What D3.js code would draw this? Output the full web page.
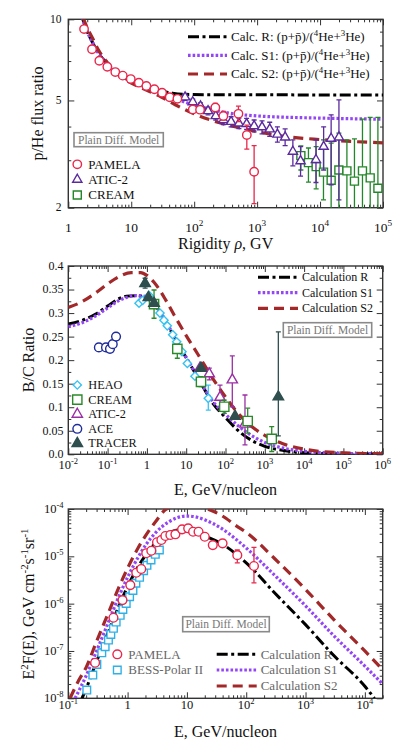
<!DOCTYPE html>
<html>
<head>
<meta charset="utf-8">
<script src="https://cdn.jsdelivr.net/npm/d3@7"></script>
<style>
  body { margin: 0; background: #fff; }
  svg { display: block; font-family: "Liberation Serif", "Times New Roman", serif; }
</style>
</head>
<body>
<svg id="chart" width="407" height="744"></svg>
<script>
// ---------- panel 1: p/He flux ratio vs rigidity (GV) ----------
// [rigidity, ratio, errLow, errHigh]
const phePamela = [
  [1.78, 9.2], [2.38, 7.74], [3.11, 7.02], [4.17, 6.67], [5.58, 6.37], [7.33, 6.18],
  [9.82, 6.0], [13.2, 5.82], [17.4, 5.66], [23.3, 5.5], [30.9, 5.34], [40.9, 5.14],
  [54.1, 5.07], [95, 4.63, 4.52, 4.74], [124, 4.62, 4.5, 4.74], [217, 4.71, 4.55, 4.88],
  [291, 4.38, 4.23, 4.55], [505, 4.46, 4.17, 4.76], [686, 3.72, 3.3, 4.05], [896, 2.72, 2.07, 3.4]
];
const pheAtic = [
  [71.7, 5.14, 5.0, 5.28], [95, 4.93, 4.8, 5.06], [126, 4.76, 4.62, 4.9], [166, 4.57, 4.42, 4.72],
  [220, 4.38, 4.23, 4.54], [292, 4.23, 4.07, 4.4], [386, 4.17, 3.99, 4.35], [514, 4.11, 3.93, 4.3],
  [681, 4.09, 3.9, 4.29], [896, 4.02, 3.82, 4.23], [1197, 3.98, 3.76, 4.2], [1585, 3.91, 3.68, 4.15],
  [2100, 3.74, 3.5, 3.99], [2786, 3.65, 3.4, 3.92], [3698, 3.23, 2.86, 3.57], [4898, 2.98, 2.62, 3.37],
  [8610, 3.01, 2.48, 3.57], [11400, 3.37, 2.76, 3.99], [15000, 3.61, 2.43, 4.42], [19950, 3.65, 2.14, 5.02]
];
const pheCream = [
  [4955, 3.12, 2.76, 3.39], [6540, 2.94, 2.49, 3.33], [8670, 2.84, 2.35, 3.37], [11330, 2.71, 2.14, 3.57],
  [15000, 2.53, 1.9, 3.47], [19900, 2.76, 1.9, 3.78], [26700, 2.74, 1.9, 3.57], [35200, 2.51, 1.9, 3.6],
  [47200, 2.74, 1.9, 4.26], [62600, 2.58, 1.9, 4.33], [83000, 2.36, 1.9, 4.33]
];
const pheCalcR = [[1.65, 10.2], [2, 9.0], [2.5, 8.1], [3, 7.5], [4, 6.9], [5, 6.5], [7, 6.15], [10, 5.9],
  [15, 5.7], [20, 5.57], [30, 5.42], [45, 5.32], [70, 5.27], [200, 5.25], [1e5, 5.24]];
const pheCalcS1 = [[1.65, 10.2], [2, 9.0], [2.5, 8.1], [3, 7.5], [4, 6.9], [5, 6.5], [7, 6.15], [10, 5.9],
  [20, 5.52], [30, 5.32], [50, 5.08], [100, 4.8], [160, 4.66], [400, 4.47], [1000, 4.38], [1e4, 4.3], [1e5, 4.26]];
const pheCalcS2 = [[1.7, 10.2], [2, 9.3], [2.5, 8.4], [3, 7.7], [4, 7.0], [5, 6.55], [7, 6.1], [10, 5.8],
  [15, 5.55], [20, 5.38], [30, 5.15], [50, 4.82], [100, 4.46], [200, 4.2], [500, 3.97], [1000, 3.83],
  [3000, 3.67], [1e4, 3.58], [1e5, 3.48]];

// ---------- panel 2: B/C ratio vs E (GeV/nucleon) ----------
const bcHeao = [
  [0.63, 0.321], [0.78, 0.327], [1.15, 0.337], [2.15, 0.3], [2.72, 0.285], [3.3, 0.273], [4.53, 0.254],
  [5.73, 0.239], [7.82, 0.218], [10.7, 0.193], [16.7, 0.166], [36.5, 0.119, 0.094, 0.147]
];
const bcCream = [
  [1.52, 0.319, 0.289, 0.349], [5.94, 0.224, 0.204, 0.234], [23.8, 0.154, 0.144, 0.165],
  [93, 0.101, 0.087, 0.115], [367, 0.0707, 0.045, 0.098], [1500, 0.0326, 0.006, 0.059]
];
const bcAtic = [
  [22.4, 0.183], [38.7, 0.171, 0.158, 0.183], [72.5, 0.121, 0.094, 0.147],
  [149, 0.158, 0.101, 0.209], [313, 0.064, 0.02, 0.126]
];
const bcAce = [[0.06, 0.227], [0.091, 0.227], [0.115, 0.224], [0.135, 0.234], [0.164, 0.25]];
const bcTracer = [
  [0.9, 0.363, 0.353, 0.374], [1.09, 0.333], [1.52, 0.321], [23.8, 0.183], [175, 0.081],
  [2210, 0.122, 0.039, 0.26]
];
const bcCalcR = [[0.01, 0.277], [0.02, 0.283], [0.05, 0.298], [0.1, 0.315], [0.2, 0.331], [0.3, 0.336],
  [0.5, 0.337], [0.8, 0.335], [1, 0.332], [2, 0.305], [3, 0.283], [5, 0.248], [10, 0.205], [20, 0.162],
  [50, 0.106], [100, 0.078], [200, 0.052], [500, 0.028], [1000, 0.017], [3000, 0.008], [1e4, 0.0035],
  [1e5, 0.001], [1e6, 0.0003]];
const bcCalcS1 = [[0.01, 0.271], [0.02, 0.278], [0.05, 0.294], [0.1, 0.311], [0.2, 0.327], [0.3, 0.333],
  [0.5, 0.337], [0.8, 0.336], [1, 0.333], [2, 0.306], [3, 0.284], [5, 0.249], [10, 0.206], [20, 0.163],
  [50, 0.11], [100, 0.085], [200, 0.062], [500, 0.038], [1000, 0.025], [3000, 0.013], [1e4, 0.0065],
  [1e5, 0.002], [1e6, 0.0007]];
const bcCalcS2 = [[0.01, 0.312], [0.02, 0.322], [0.05, 0.343], [0.1, 0.362], [0.2, 0.378], [0.4, 0.386],
  [0.7, 0.386], [1, 0.38], [1.5, 0.366], [2, 0.352], [3, 0.328], [5, 0.295], [10, 0.252], [20, 0.212],
  [50, 0.158], [100, 0.122], [200, 0.089], [500, 0.057], [1000, 0.04], [3000, 0.022], [1e4, 0.011],
  [1e5, 0.003], [1e6, 0.001]];

// ---------- panel 3: antiproton E^2 F(E) ----------
const pbarPamela = [
  [0.283, 5.63e-8], [0.577, 5.03e-7], [0.82, 1.19e-6], [1.11, 2.47e-6], [1.4, 4.5e-6], [1.7, 5.39e-6],
  [2.06, 1.16e-5], [2.51, 1.31e-5], [3.13, 1.98e-5], [3.71, 2.21e-5], [4.33, 2.69e-5], [5.26, 2.82e-5],
  [6.39, 2.92e-5], [8.29, 3.72e-5], [10.5, 3.91e-5], [12.7, 3.31e-5], [15.7, 3.31e-5], [20, 2.59e-5],
  [27.3, 1.73e-5], [39.9, 1.88e-5], [70.7, 1.06e-5, 7.3e-6, 1.36e-5], [135, 6.24e-6, 2.75e-6, 1.55e-5]
];
const pbarBess = [
  [0.205, 1.49e-8], [0.259, 3.09e-8], [0.303, 5.21e-8], [0.367, 9.16e-8], [0.418, 1.23e-7],
  [0.475, 1.7e-7], [0.521, 2.24e-7], [0.577, 3.01e-7], [0.641, 4.08e-7], [0.75, 5.66e-7],
  [0.832, 7.57e-7], [0.947, 1.01e-6], [1.08, 1.4e-6], [1.23, 1.9e-6], [1.38, 2.7e-6], [1.59, 3.6e-6],
  [1.86, 4.96e-6], [2.12, 6.46e-6], [2.48, 8.36e-6], [2.93, 1.1e-5], [3.43, 1.36e-5]
];
const pbarCalcR = [[0.17, 1e-8], [0.2, 1.6e-8], [0.3, 6e-8], [0.5, 3e-7], [0.7, 8.5e-7], [1, 2.3e-6],
  [1.5, 6e-6], [2, 1.05e-5], [3, 1.95e-5], [5, 3.1e-5], [7, 3.6e-5], [10, 3.6e-5], [15, 3.2e-5],
  [20, 2.7e-5], [37, 1.9e-5], [100, 7.3e-6], [300, 1.7e-6], [1000, 3.6e-7], [3000, 8e-8],
  [1e4, 1.8e-8], [1.45e4, 1e-8]];
const pbarCalcS1 = [[0.13, 1e-8], [0.2, 3e-8], [0.3, 1e-7], [0.5, 4.8e-7], [0.7, 1.35e-6], [1, 3.6e-6],
  [1.5, 9.5e-6], [2, 1.7e-5], [3, 3.2e-5], [5, 5.4e-5], [7, 6.6e-5], [10, 7.1e-5], [15, 6.7e-5],
  [20, 5.9e-5], [37, 4e-5], [70, 2.2e-5], [100, 1.5e-5], [300, 4e-6], [1000, 9e-7], [3000, 2.1e-7],
  [1e4, 4.8e-8], [2e4, 2e-8]];
const pbarCalcS2 = [[0.107, 1e-8], [0.15, 2.4e-8], [0.2, 4.5e-8], [0.3, 1.6e-7], [0.5, 7.5e-7],
  [0.7, 2.1e-6], [1, 5.6e-6], [1.5, 1.5e-5], [2, 2.7e-5], [3, 5.5e-5], [4.5, 1e-4], [7, 1.15e-4],
  [10, 1.18e-4], [15, 1.12e-4], [22, 1e-4], [37, 7.5e-5], [70, 4.3e-5], [100, 3.2e-5], [300, 9e-6],
  [1000, 2e-6], [3000, 4.6e-7], [1e4, 1e-7], [2e4, 4e-8]];

// tick label values
const pheXTicks = [1, 10, 100, 1e3, 1e4, 1e5];
const pheYTicks = [2, 5, 10];
const bcXTicks = [1e-2, 1e-1, 1, 10, 100, 1e3, 1e4, 1e5, 1e6];
const bcYTicks = [0, 0.05, 0.1, 0.15, 0.2, 0.25, 0.3, 0.35, 0.4];
const pbarXTicks = [0.1, 1, 10, 100, 1e3, 1e4];
const pbarYTicks = [1e-8, 1e-7, 1e-6, 1e-5, 1e-4];

// ---------- styles ----------
const calcStyle = {
  R: { color: '#000', dash: '11,3.5,3,3.5', width: 3 },
  S1: { color: '#9446f7', dash: '2.6,2', width: 3.2 },
  S2: { color: '#a3282a', dash: '10,6', width: 3.2 }
};

const svg = d3.select('#chart');
const FRAME = '#333';

function logTicks(lo, hi) {
  const major = [], minor = [];
  for (let e = Math.floor(Math.log10(lo)) - 1; e <= Math.ceil(Math.log10(hi)); e++) {
    for (let k = 1; k <= 9; k++) {
      const v = k * Math.pow(10, e);
      if (v < lo * 0.999 || v > hi * 1.001) continue;
      (k === 1 ? major : minor).push(v);
    }
  }
  return { major, minor };
}

// parts: plain strings or {sup, up}; the baseline comes back on the next plain part
function richText(sel, parts, supSize) {
  let back = 0;
  parts.forEach(p => {
    if (typeof p === 'string') {
      const t = sel.append('tspan').text(p);
      if (back) t.attr('dy', back);
      back = 0;
    } else {
      sel.append('tspan').attr('font-size', supSize).attr('dy', -p.up - back).text(p.sup);
      back = p.up;
    }
  });
}

function powParts(v, up) {
  const e = Math.round(Math.log10(v));
  if (e === 0) return ['1'];
  if (e === 1) return ['10'];
  return ['10', { sup: String(e), up: up }];
}

function makePanel(cfg) {
  const x = d3.scaleLog().domain(cfg.xDomain).range([cfg.left, cfg.right]);
  const y = (cfg.yLog ? d3.scaleLog() : d3.scaleLinear()).domain(cfg.yDomain).range([cfg.bottom, cfg.top]);
  const g = svg.append('g');

  svg.append('clipPath').attr('id', 'clip-' + cfg.id)
    .append('rect')
    .attr('x', cfg.left).attr('y', cfg.top)
    .attr('width', cfg.right - cfg.left).attr('height', cfg.bottom - cfg.top);

  // ticks on all four sides, pointing inward
  const axes = [
    [d3.axisBottom, x, cfg.xMajor, cfg.xMinor, `translate(0,${cfg.bottom})`],
    [d3.axisTop, x, cfg.xMajor, cfg.xMinor, `translate(0,${cfg.top})`],
    [d3.axisLeft, y, cfg.yMajor, cfg.yMinor, `translate(${cfg.left},0)`],
    [d3.axisRight, y, cfg.yMajor, cfg.yMinor, `translate(${cfg.right},0)`]
  ];
  axes.forEach(([fn, sc, major, minor, tr]) => {
    [[major, 6], [minor, 3]].forEach(([vals, len]) => {
      g.append('g')
        .attr('transform', tr)
        .call(fn(sc).tickValues(vals).tickSize(-len).tickSizeOuter(0).tickFormat(''))
        .call(a => a.select('.domain').remove())
        .call(a => a.selectAll('line').attr('stroke', FRAME).attr('stroke-width', 1));
    });
  });

  g.append('rect')
    .attr('x', cfg.left).attr('y', cfg.top)
    .attr('width', cfg.right - cfg.left).attr('height', cfg.bottom - cfg.top)
    .attr('fill', 'none').attr('stroke', FRAME).attr('stroke-width', 1.4);

  const plot = svg.append('g').attr('clip-path', `url(#clip-${cfg.id})`);
  return { x, y, g, plot };
}

function drawCurve(p, data, style) {
  const line = d3.line().x(d => p.x(d[0])).y(d => p.y(d[1])).curve(d3.curveMonotoneX);
  p.plot.append('path')
    .attr('d', line(data))
    .attr('fill', 'none')
    .attr('stroke', style.color)
    .attr('stroke-width', style.width)
    .attr('stroke-dasharray', style.dash);
}

function drawErrors(p, data, color) {
  const withErr = data.filter(d => d.length > 2);
  const eg = p.plot.append('g').attr('stroke', color).attr('stroke-width', 1.3);
  withErr.forEach(d => {
    const cx = p.x(d[0]);
    eg.append('line').attr('x1', cx).attr('x2', cx).attr('y1', p.y(d[2])).attr('y2', p.y(d[3]));
    [d[2], d[3]].forEach(v => {
      eg.append('line').attr('x1', cx - 2.5).attr('x2', cx + 2.5).attr('y1', p.y(v)).attr('y2', p.y(v));
    });
  });
}

function markerPath(shape) {
  const types = { circle: d3.symbolCircle, triangle: d3.symbolTriangle, square: d3.symbolSquare, diamond: d3.symbolSquare };
  return d3.symbol().type(types[shape.type]).size(shape.size)();
}

function drawMarkers(sel, pts, shape) {
  sel.selectAll(null)
    .data(pts)
    .enter()
    .append('path')
    .attr('d', markerPath(shape))
    .attr('transform', d => `translate(${d[0]},${d[1]})` + (shape.type === 'diamond' ? ' rotate(45)' : ''))
    .attr('fill', shape.fill || '#fff')
    .attr('stroke', shape.color)
    .attr('stroke-width', 1.4);
}

function drawSeries(p, data, shape) {
  drawErrors(p, data, shape.color);
  drawMarkers(p.plot.append('g'), data.map(d => [p.x(d[0]), p.y(d[1])]), shape);
}

function xLabels(p, ticks, baseY, size, supUp) {
  ticks.forEach(v => {
    const t = p.g.append('text')
      .attr('x', p.x(v)).attr('y', baseY)
      .attr('text-anchor', 'middle').attr('font-size', size).attr('fill', '#111');
    richText(t, powParts(v, supUp), size * 0.68);
  });
}

function yLabels(p, ticks, xEnd, size, fmt) {
  ticks.forEach(v => {
    const t = p.g.append('text')
      .attr('x', xEnd).attr('y', p.y(v) + size * 0.33)
      .attr('text-anchor', 'end').attr('font-size', size).attr('fill', '#111');
    richText(t, fmt(v), size * 0.68);
  });
}

function axisTitle(p, text, x, y, rotate, size) {
  const t = p.g.append('text')
    .attr('transform', `translate(${x},${y})` + (rotate ? ' rotate(-90)' : ''))
    .attr('text-anchor', 'middle').attr('font-size', size).attr('fill', '#111');
  richText(t, text, size * 0.68);
  return t;
}

function legendLine(p, x1, x2, y, style, parts, size, color) {
  p.g.append('line')
    .attr('x1', x1).attr('x2', x2).attr('y1', y).attr('y2', y)
    .attr('stroke', style.color).attr('stroke-width', style.width)
    .attr('stroke-dasharray', style.dash);
  const t = p.g.append('text')
    .attr('x', x2 + 4).attr('y', y + size * 0.33)
    .attr('font-size', size).attr('fill', color);
  richText(t, parts, size * 0.68);
}

function legendMarker(p, x, y, shape, label, size, color) {
  drawMarkers(p.g.append('g'), [[x, y]], shape);
  p.g.append('text')
    .attr('x', x + 11).attr('y', y + size * 0.33)
    .attr('font-size', size).attr('fill', color).text(label);
}

function modelBox(p, x0, y0, x1, y1) {
  p.g.append('rect')
    .attr('x', x0).attr('y', y0).attr('width', x1 - x0).attr('height', y1 - y0)
    .attr('fill', '#fff').attr('stroke', '#8a8a8a').attr('stroke-width', 1.6);
  p.g.append('text')
    .attr('x', (x0 + x1) / 2).attr('y', (y0 + y1) / 2 + 4)
    .attr('text-anchor', 'middle').attr('font-size', 11.5).attr('fill', '#777')
    .text('Plain Diff. Model');
}

// ================= panel 1 =================
const p1x = logTicks(1, 1e5);
const p1 = makePanel({
  id: 'phe', left: 68.3, right: 383, top: 19.3, bottom: 207.7,
  xDomain: [1, 1e5], yDomain: [2, 10], yLog: true,
  xMajor: p1x.major, xMinor: p1x.minor,
  yMajor: pheYTicks, yMinor: [3, 4, 6, 7, 8, 9]
});
drawCurve(p1, pheCalcR, calcStyle.R);
drawCurve(p1, pheCalcS1, calcStyle.S1);
drawCurve(p1, pheCalcS2, calcStyle.S2);
const pamelaShape = { type: 'circle', size: 56, color: '#e8274b' };
const aticShape1 = { type: 'triangle', size: 37, color: '#5b2a9e' };
const creamShape1 = { type: 'square', size: 64, color: '#24862a' };
drawSeries(p1, pheCream, creamShape1);
drawSeries(p1, pheAtic, aticShape1);
drawSeries(p1, phePamela, pamelaShape);

xLabels(p1, pheXTicks, 231.5, 13.5, 5.5);
yLabels(p1, pheYTicks, 61.5, 11.5, v => [String(v)]);
axisTitle(p1, ['Rigidity ', 'ρ', ', GV'], 225.6, 249, false, 16)
  .selectAll('tspan').filter((d, i) => i === 1).attr('font-style', 'italic');
axisTitle(p1, ['p/He flux ratio'], 42.5, 113.5, true, 16);

const calcPheParts = key => ['Calc. ' + key + ': (p+p\u0304)/(', { sup: '4', up: 5 }, 'He+', { sup: '3', up: 5 }, 'He)'];
legendLine(p1, 188, 227, 36.7, calcStyle.R, calcPheParts('R'), 13, '#111');
legendLine(p1, 188, 227, 55.3, calcStyle.S1, calcPheParts('S1'), 13, '#111');
legendLine(p1, 188, 227, 74, calcStyle.S2, calcPheParts('S2'), 13, '#111');
modelBox(p1, 74, 132.7, 163.3, 146.7);
legendMarker(p1, 77.3, 164.3, pamelaShape, 'PAMELA', 13, '#111');
legendMarker(p1, 77.3, 179.6, aticShape1, 'ATIC-2', 13, '#111');
legendMarker(p1, 77.3, 195, creamShape1, 'CREAM', 13, '#111');

// ================= panel 2 =================
const p2x = logTicks(1e-2, 1e6);
const p2 = makePanel({
  id: 'bc', left: 68.3, right: 382.7, top: 266, bottom: 454.3,
  xDomain: [1e-2, 1e6], yDomain: [0, 0.4], yLog: false,
  xMajor: p2x.major, xMinor: p2x.minor,
  yMajor: bcYTicks, yMinor: d3.range(0.025, 0.4, 0.05)
});
drawCurve(p2, bcCalcR, calcStyle.R);
drawCurve(p2, bcCalcS1, calcStyle.S1);
drawCurve(p2, bcCalcS2, calcStyle.S2);
const heaoShape = { type: 'diamond', size: 34, color: '#36c3f2' };
const creamShape2 = { type: 'square', size: 86, color: '#2a8a2a' };
const aticShape2 = { type: 'triangle', size: 46, color: '#9a2fa5' };
const aceShape = { type: 'circle', size: 60, color: '#1f2d9c' };
const tracerShape = { type: 'triangle', size: 48, color: '#2f4f4f', fill: '#2f4f4f' };
drawSeries(p2, bcAce, aceShape);
drawSeries(p2, bcHeao, heaoShape);
drawSeries(p2, bcAtic, aticShape2);
drawSeries(p2, bcCream, creamShape2);
drawSeries(p2, bcTracer, tracerShape);

xLabels(p2, bcXTicks, 469, 12.5, 5);
yLabels(p2, bcYTicks, 63.5, 12, v => [v === 0 ? '0.0' : String(+v.toFixed(2))]);
axisTitle(p2, ['E, GeV/nucleon'], 225.5, 494.5, false, 16);
axisTitle(p2, ['B/C Ratio'], 33.5, 360, true, 16);

legendLine(p2, 258, 298, 277.3, calcStyle.R, ['Calculation R'], 12, '#111');
legendLine(p2, 258, 298, 292.7, calcStyle.S1, ['Calculation S1'], 12, '#111');
legendLine(p2, 258, 298, 308.3, calcStyle.S2, ['Calculation S2'], 12, '#111');
modelBox(p2, 283.3, 322.7, 371.7, 337.3);
[[heaoShape, 'HEAO'], [creamShape2, 'CREAM'], [aticShape2, 'ATIC-2'], [aceShape, 'ACE'], [tracerShape, 'TRACER']]
  .forEach(([s, label], i) => legendMarker(p2, 77.3, 385 + i * 14.6, s, label, 12.3, '#111'));

// ================= panel 3 =================
const p3x = logTicks(0.1, 2e4);
const p3y = logTicks(1e-8, 1e-4);
const p3 = makePanel({
  id: 'pbar', left: 68.3, right: 382.7, top: 509, bottom: 698.3,
  xDomain: [0.1, 2e4], yDomain: [1e-8, 1e-4], yLog: true,
  xMajor: p3x.major, xMinor: p3x.minor,
  yMajor: p3y.major, yMinor: p3y.minor
});
drawCurve(p3, pbarCalcR, calcStyle.R);
drawCurve(p3, pbarCalcS1, calcStyle.S1);
drawCurve(p3, pbarCalcS2, calcStyle.S2);
const pamelaShape3 = { type: 'circle', size: 60, color: '#e8274b' };
const bessShape = { type: 'square', size: 58, color: '#2fb0e6' };
drawSeries(p3, pbarBess, bessShape);
drawSeries(p3, pbarPamela, pamelaShape3);

xLabels(p3, pbarXTicks, 709, 12.5, 5);
yLabels(p3, pbarYTicks, 63.5, 12.5, v => powParts(v, 5));
axisTitle(p3, ['E, GeV/nucleon'], 225.5, 737, false, 16);
axisTitle(p3, ['E', { sup: '2', up: 6 }, 'F(E), GeV cm', { sup: '-2', up: 6 }, 's', { sup: '-1', up: 6 }, 'sr', { sup: '-1', up: 6 }],
  33.5, 604, true, 16);

modelBox(p3, 182.7, 616.7, 269.3, 631.7);
legendMarker(p3, 117.3, 654.3, pamelaShape3, 'PAMELA', 13, '#666');
legendMarker(p3, 117.3, 670, bessShape, 'BESS-Polar II', 13, '#666');
legendLine(p3, 216.7, 256.7, 654.3, calcStyle.R, ['Calculation R'], 13, '#666');
legendLine(p3, 216.7, 256.7, 670, calcStyle.S1, ['Calculation S1'], 13, '#666');
legendLine(p3, 216.7, 256.7, 686, calcStyle.S2, ['Calculation S2'], 13, '#666');
</script>
</body>
</html>
